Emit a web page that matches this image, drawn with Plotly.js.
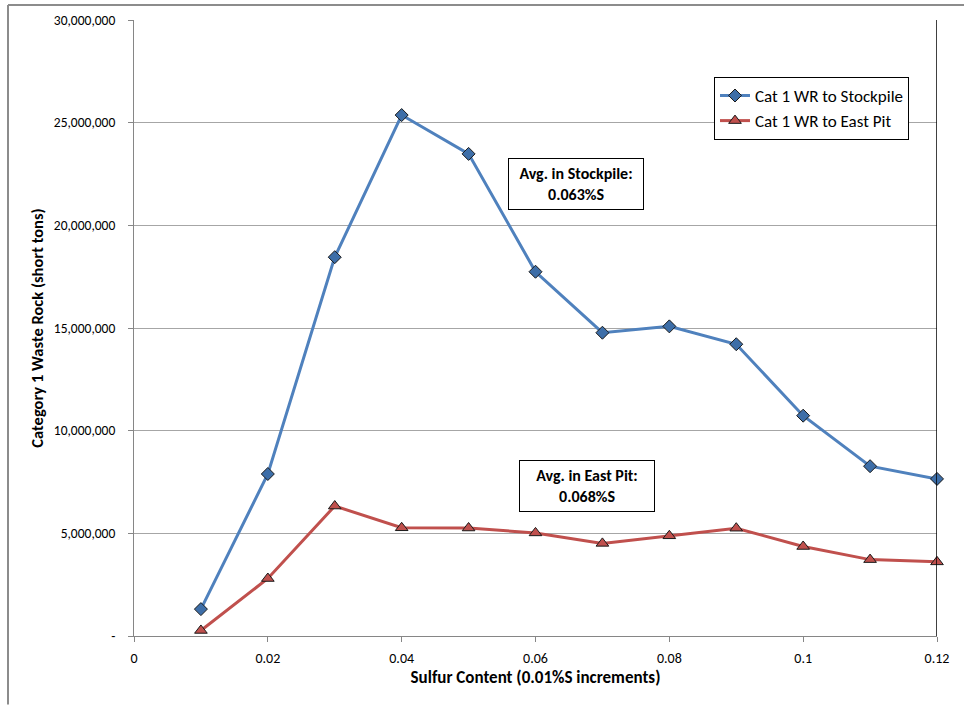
<!DOCTYPE html>
<html>
<head>
<meta charset="utf-8">
<script src="https://cdn.plot.ly/plotly-3.0.1.min.js"></script>
<style>
html,body{margin:0;padding:0;background:#fff;}
#chart{width:964px;height:705px;}
</style>
</head>
<body>
<div id="chart"></div>
<script>
// Data
const sulfur = [0.01, 0.02, 0.03, 0.04, 0.05, 0.06, 0.07, 0.08, 0.09, 0.10, 0.11, 0.12];
const stockpile = [1310000, 7890000, 18450000, 25370000, 23480000, 17740000, 14770000, 15080000, 14210000, 10730000, 8270000, 7650000];
const eastPit = [270000, 2800000, 6330000, 5270000, 5260000, 5020000, 4510000, 4880000, 5250000, 4360000, 3720000, 3610000];
const seriesNames = ["Cat 1 WR to Stockpile", "Cat 1 WR to East Pit"];
const xTickVals = [0, 0.02, 0.04, 0.06, 0.08, 0.1, 0.12];
const xTickText = ["0", "0.02", "0.04", "0.06", "0.08", "0.1", "0.12"];
const yTickVals = [0, 5000000, 10000000, 15000000, 20000000, 25000000, 30000000];
const yTickText = ["-", "5,000,000", "10,000,000", "15,000,000", "20,000,000", "25,000,000", "30,000,000"];
const notes = [
  {x: 0.0660, y: 22000000, text: "Avg. in Stockpile:<br>0.063%S"},
  {x: 0.0677, y: 7300000, text: "Avg. in East Pit:<br>0.068%S"}
];

const FONT = "Calibri, Carlito, 'Open Sans', 'Noto Sans', sans-serif";

const traces = [
  {
    x: sulfur, y: stockpile, name: seriesNames[0], type: "scatter", mode: "lines+markers",
    line: {color: "#4f81bd", width: 3},
    marker: {symbol: "diamond", size: 10, color: "#3d6ea8", line: {color: "#1a1a1a", width: 1}},
    cliponaxis: false
  },
  {
    x: sulfur, y: eastPit, name: seriesNames[1], type: "scatter", mode: "lines+markers",
    line: {color: "#c0504d", width: 3},
    marker: {symbol: "triangle-up", size: 11, color: "#c0504d", line: {color: "#1a1a1a", width: 1}},
    cliponaxis: false
  }
];

// plot area mapping helpers (paper coordinates)
const L = 134, R = 937, T = 20, B = 636.5;
const px = v => (v - L) / (R - L);
const py = v => (B - v) / (B - T);

const layout = {
  width: 964, height: 705,
  margin: {l: L, r: 964 - R, t: T, b: 705 - B},
  paper_bgcolor: "#ffffff", plot_bgcolor: "#ffffff",
  font: {family: FONT, size: 12, color: "#000"},
  showlegend: true,
  legend: {
    x: px(714), y: py(77), xanchor: "left", yanchor: "top",
    bgcolor: "#ffffff", bordercolor: "#000000", borderwidth: 1,
    font: {family: FONT, size: 17, color: "#000"},
    tracegroupgap: 0, itemwidth: 30
  },
  xaxis: {
    range: [0, 0.12], tickvals: xTickVals, ticktext: xTickText,
    showgrid: false, zeroline: false,
    showline: true, linecolor: "#868686", linewidth: 1,
    ticks: "outside", ticklen: 5, tickcolor: "#868686", ticklabelstandoff: 4,
    tickfont: {family: FONT, size: 14, color: "#000"},
    title: {text: "<b>Sulfur Content (0.01%S increments)</b>", font: {family: FONT, size: 17, color: "#000"}, standoff: 4}
  },
  yaxis: {
    range: [0, 30000000], tickvals: yTickVals, ticktext: yTickText,
    showgrid: true, gridcolor: "#a6a6a6", gridwidth: 1, zeroline: false,
    showline: true, linecolor: "#868686", linewidth: 1,
    ticks: "outside", ticklen: 5, tickcolor: "#868686", ticklabelstandoff: 10,
    tickfont: {family: FONT, size: 13.5, color: "#000"},
    title: {text: "<b>Category 1 Waste Rock (short tons)</b>", font: {family: FONT, size: 16.5, color: "#000"}, standoff: 6}
  },
  annotations: notes.map(n => ({
    x: n.x, y: n.y, xref: "x", yref: "y", text: "<b>" + n.text + "</b>", showarrow: false,
    font: {family: FONT, size: 16, color: "#000"},
    bgcolor: "#ffffff", bordercolor: "#000000", borderwidth: 1, borderpad: 4,
    width: 126, height: 42, align: "center", valign: "middle"
  })),
  shapes: [
    {type: "line", xref: "x", yref: "y", x0: 0.12, x1: 0.12, y0: 0, y1: 30000000, line: {color: "#000", width: 1.5}},
    {type: "line", xref: "paper", yref: "paper", x0: px(8), x1: px(964), y0: py(5), y1: py(5), line: {color: "#8c8c8c", width: 2}},
    {type: "line", xref: "paper", yref: "paper", x0: px(8), x1: px(8), y0: py(5), y1: py(705), line: {color: "#8c8c8c", width: 2}}
  ]
};

Plotly.newPlot("chart", traces, layout, {displayModeBar: false, staticPlot: true});
</script>
</body>
</html>
